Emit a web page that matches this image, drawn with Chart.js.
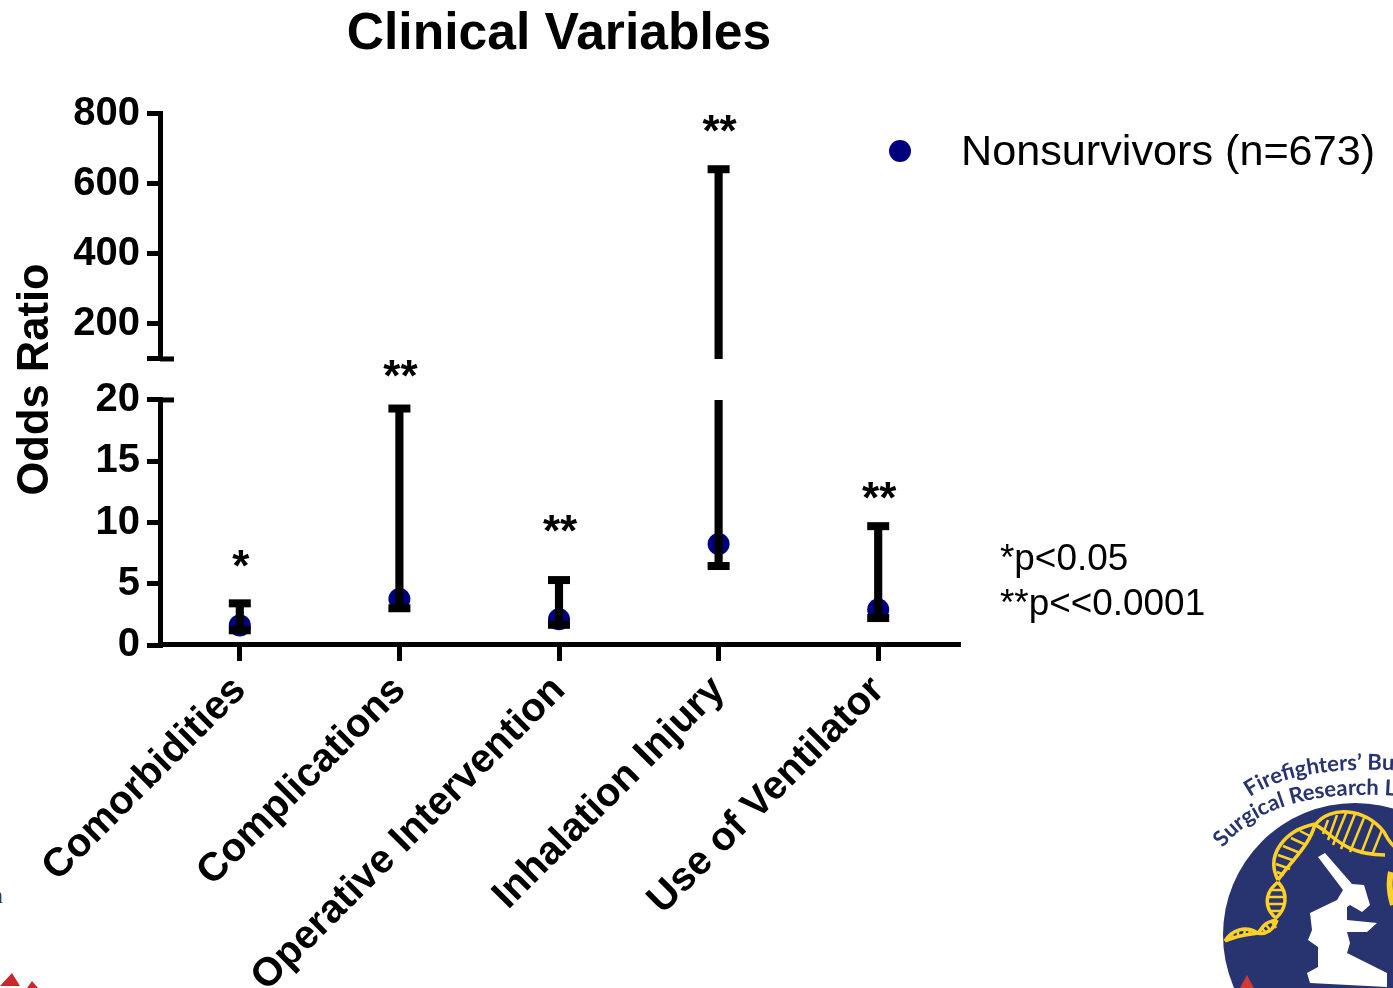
<!DOCTYPE html>
<html>
<head>
<meta charset="utf-8">
<title>Clinical Variables</title>
<script src="https://cdn.jsdelivr.net/npm/chart.js@4"></script>
<style>
  body { margin: 0; background: #fff; overflow: hidden; }
  #wrap { position: relative; width: 1393px; height: 988px; font-family: "Liberation Sans", Arial, sans-serif; }
  canvas { position: absolute; left: 0; top: 0; }
  #dot { position: absolute; left: 889px; top: 140px; width: 22px; height: 22px; border-radius: 50%; background: #00007f; }
  #legendTxt { position: absolute; left: 961px; top: 126px; font-size: 43.2px; line-height: 48px; white-space: nowrap; }
  #notes { position: absolute; left: 1000px; top: 535px; font-size: 36.9px; line-height: 45px; white-space: nowrap; }
  #logo { position: absolute; left: 0; top: 0; }
</style>
</head>
<body>
<div id="wrap">
  <canvas id="grafico" width="1393" height="988"></canvas>
  <div id="dot"></div>
  <div id="legendTxt">Nonsurvivors (n=673)</div>
  <div id="notes">*p&lt;0.05<br>**p&lt;&lt;0.0001</div>
  <svg id="logo" width="1393" height="988" viewBox="0 0 1393 988">
    <defs>
      <path id="arcA" d="M1250 797 Q1300 762 1420 772"/>
      <path id="arcB" d="M1223 848 Q1275 782 1420 798"/>
    </defs>
    <text font-family="Lato" font-weight="700" font-size="22" fill="#27346f"><textPath href="#arcA">Firefighters’ Burn</textPath></text>
    <text font-family="Lato" font-weight="700" font-size="22" fill="#27346f"><textPath href="#arcB">Surgical Research Lab</textPath></text>
    <circle cx="1355" cy="935" r="132" fill="#27346f"/>
    <g fill="none" stroke="#fdd128" stroke-width="3.5">
      <path d="M1315 825 C1330 805 1365 808 1384 832 C1388 840 1392 845 1396 848"/>
      <path d="M1315 825 C1330 830 1340 855 1385 855"/>
      <path d="M1315 824 C1285 830 1265 855 1278 880"/>
      <path d="M1315 824 C1310 845 1292 860 1278 880"/>
      <path d="M1278 882 C1262 895 1266 910 1276 918"/>
      <path d="M1278 882 C1290 895 1285 910 1276 918"/>
      <path d="M1277 920 C1274 930 1265 935 1258 933"/>
      <path d="M1277 920 C1262 922 1262 930 1258 933"/>
      <path d="M1258 933 C1245 925 1232 930 1225 941"/>
      <path d="M1258 933 C1245 935 1238 935 1225 941"/>
      <path d="M1391 872 C1388 885 1390 895 1393 905" stroke-width="6"/>
      <g stroke-width="2.5">
        <path d="M1328 820 L1323 834 M1337 815 L1328 840 M1346 813 L1333 845 M1355 814 L1341 849 M1364 818 L1350 852 M1373 823 L1361 854 M1382 830 L1372 855"/>
        <path d="M1300 831 L1310 836 M1291 838 L1306 845 M1283 846 L1300 853 M1278 855 L1295 861 M1276 864 L1290 869 M1277 872 L1284 875"/>
        <path d="M1272 890 L1284 890 M1269 897 L1285 897 M1269 904 L1285 904 M1271 911 L1282 911"/>
        <path d="M1272 922 L1276 928 M1266 925 L1271 931 M1262 928 L1266 933"/>
        <path d="M1250 930 L1249 935 M1245 929 L1244 936 M1238 931 L1238 937 M1232 934 L1233 939"/>
      </g>
    </g>
    <path d="M1318 857 L1325 853 L1352 884 L1364 885 L1370 905 L1362 912 L1350 905 L1347 907 L1347 920 L1377 923 L1367 932 L1347 932 L1350 943 L1347 953 L1387 973 L1387 987 L1310 983 L1307 973 L1318 967 L1318 947 L1308 940 L1312 930 L1310 913 L1337 900 L1343 890 Z" fill="#fff"/>
    <path d="M1240 988 L1247 975 L1254 988 Z" fill="#d13a32"/>
    <path d="M0 986 L12 973 L20 986 Z M27 988 L32 981 L38 988 Z" fill="#c8272e"/>
    <text x="-9" y="903" font-family="Liberation Serif" font-size="24" fill="#1c3a6e">n</text>
  </svg>
</div>
<script>
const categorias = ["Comorbidities", "Complications", "Operative Intervention", "Inhalation Injury", "Use of Ventilator"];
const oddsRatio = [1.6, 3.75, 2.1, 8.25, 2.9];
const limInferior = [1.2, 3.0, 1.65, 6.45, 2.2];
const limSuperior = [3.4, 19.3, 5.3, 642, 9.7];
const significancia = ["*", "**", "**", "**", "**"];
const alturaEstrela = [7.4, 22.9, 10.3, 786, 13.0];
const ticksAlto = [100, 200, 400, 600, 800];
const ticksBaixo = [0, 5, 10, 15, 20];
const corte = 20;
const inicioAlto = 100;

const fonte = "'Liberation Sans', Arial, sans-serif";
const fonteEixo = { family: fonte, size: 40, weight: "bold" };

// marcas do corte do eixo e os asteriscos
const extras = {
  id: "extras",
  afterDraw(chart) {
    const c = chart.ctx, sBaixo = chart.scales.y, sAlto = chart.scales.yTop, xs = chart.scales.x;
    c.save();
    c.fillStyle = "#000";
    [sBaixo.getPixelForValue(corte), sAlto.getPixelForValue(inicioAlto)].forEach(py => {
      c.fillRect(xs.left, py - 2.5, 14, 5);
    });
    c.font = "bold 44px " + fonte;
    c.textAlign = "center";
    c.textBaseline = "alphabetic";
    significancia.forEach((s, i) => {
      const escala = limSuperior[i] > corte ? sAlto : sBaixo;
      c.fillText(s, xs.getPixelForValue(i) + 1, escala.getPixelForValue(alturaEstrela[i]) + 27);
    });
    c.restore();
  }
};

const eixoY = (min, max, lista, peso, ordem) => ({
  type: "linear",
  position: "left",
  stack: "odds",
  stackWeight: peso,
  weight: ordem,
  min: min,
  max: max,
  afterBuildTicks: s => { s.ticks = lista.map(v => ({ value: v })); },
  afterFit: s => { s.width = 160; },
  border: { color: "#000", width: 5 },
  grid: { drawOnChartArea: false, color: "#000", lineWidth: 5, tickLength: 13, tickWidth: 5 },
  ticks: { color: "#000", font: fonteEixo, padding: 7, callback: v => (v === inicioAlto ? "" : v) }
});

new Chart(document.getElementById("grafico").getContext("2d"), {
  data: {
    labels: categorias,
    datasets: [
      { type: "line", label: "Nonsurvivors (n=673)", data: oddsRatio, yAxisID: "y", showLine: false, order: 5,
        pointRadius: 11, pointBackgroundColor: "#00007f", pointBorderWidth: 0 },
      { type: "bar", label: "IC baixo", data: limInferior.map((l, i) => [l, Math.min(limSuperior[i], corte)]), yAxisID: "y",
        backgroundColor: "#000", barThickness: 7.5, grouped: false, order: 1 },
      { type: "bar", label: "IC alto", data: limSuperior.map(h => (h > corte ? [inicioAlto, h] : null)), yAxisID: "yTop",
        backgroundColor: "#000", barThickness: 7.5, grouped: false, order: 1 },
      { type: "line", label: "limite inferior", data: limInferior, yAxisID: "y", showLine: false, order: 0,
        pointStyle: "line", pointRadius: 11, pointBorderColor: "#000", pointBorderWidth: 8 },
      { type: "line", label: "limite superior", data: limSuperior.map(h => (h > corte ? null : h)), yAxisID: "y", showLine: false, order: 0,
        pointStyle: "line", pointRadius: 11, pointBorderColor: "#000", pointBorderWidth: 8 },
      { type: "line", label: "limite superior alto", data: limSuperior.map(h => (h > corte ? h : null)), yAxisID: "yTop", showLine: false, order: 0,
        pointStyle: "line", pointRadius: 11, pointBorderColor: "#000", pointBorderWidth: 8 }
    ]
  },
  options: {
    responsive: false,
    animation: false,
    layout: { padding: { left: 0, right: 435, top: 0, bottom: 0 } },
    plugins: {
      legend: { display: false },
      tooltip: { enabled: false },
      title: {
        display: true,
        text: "Clinical Variables",
        color: "#000",
        fullSize: false,
        font: { family: fonte, size: 51.6, weight: "bold" },
        padding: { top: 4, bottom: 48 }
      }
    },
    scales: {
      x: {
        type: "category",
        afterFit: s => { s.height = 343; s.paddingLeft = 0; s.paddingRight = 0; },
        border: { color: "#000", width: 5 },
        grid: { offset: false, drawOnChartArea: false, color: "#000", lineWidth: 5, tickLength: 16, tickWidth: 5 },
        ticks: { color: "#000", font: fonteEixo, padding: 6, minRotation: 45, maxRotation: 45, autoSkip: false }
      },
      y: eixoY(0, corte, ticksBaixo, 245, 1),
      gap: {
        type: "linear",
        position: "left",
        stack: "odds",
        stackWeight: 41,
        weight: 2,
        min: 0,
        max: 1,
        afterFit: s => { s.width = 160; },
        border: { display: false },
        grid: { display: false },
        ticks: { display: false },
        title: { display: true, text: "Odds Ratio", color: "#000", font: { family: fonte, size: 43.5, weight: "bold" }, padding: { top: 10, bottom: 0 } }
      },
      yTop: eixoY(inicioAlto, 800, ticksAlto, 245, 3)
    }
  },
  plugins: [extras]
});
</script>
</body>
</html>
